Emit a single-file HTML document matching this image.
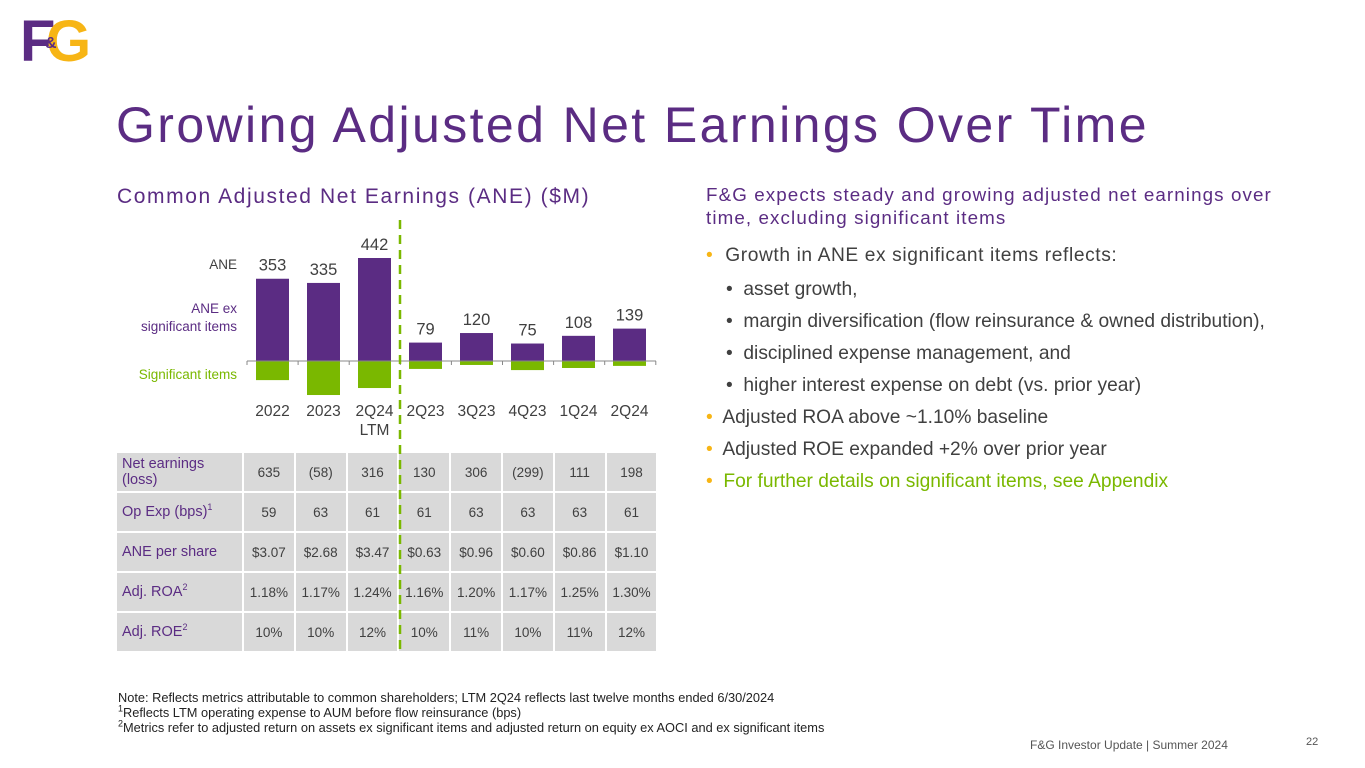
<!DOCTYPE html>
<html><head><meta charset="utf-8"><style>
body{margin:0;width:1365px;height:768px;background:#fff;position:relative;overflow:hidden;font-family:"Liberation Sans",sans-serif}
.abs{position:absolute}
.purple{color:#5b2c83}
table{border-collapse:separate;border-spacing:2px;position:absolute;left:115px;top:451px;table-layout:fixed}
td{background:#d9d9d9;height:38px;text-align:center;vertical-align:middle;font-size:13.5px;color:#404040;padding:0;width:49.8px}
td.lab{text-align:left;color:#5b2c83;font-size:14.5px;width:120px;padding-left:5px;line-height:16px}
sup{font-size:9px;line-height:0}
ul{margin:0;padding:0;list-style:none}
li{position:absolute;font-size:19.2px;color:#404040;white-space:nowrap}
</style></head><body>
<div class="abs" style="left:20px;top:14px;width:72px;height:56px;font-weight:bold;font-size:58px;line-height:56px">
<span style="position:absolute;left:0;top:0;color:#5b2c83;letter-spacing:-4px">F</span>
<span style="position:absolute;left:26px;top:0;color:#f7b515">G</span>
<span style="position:absolute;left:25px;top:22px;font-size:16px;line-height:16px;color:#5b2c83">&amp;</span>
</div>
<div class="abs purple" style="left:116px;top:96px;font-size:50px;letter-spacing:2.4px">Growing Adjusted Net Earnings Over Time</div>
<div class="abs purple" style="left:117px;top:185px;font-size:21px;letter-spacing:1.6px">Common Adjusted Net Earnings (ANE) ($M)</div>
<div class="abs" style="left:180px;top:257px;width:57px;text-align:right;font-size:13.5px;color:#404040">ANE</div>
<div class="abs purple" style="left:100px;top:300px;width:137px;text-align:right;font-size:13.5px;line-height:18px">ANE ex<br>significant items</div>
<div class="abs" style="left:100px;top:367px;width:137px;text-align:right;font-size:13.5px;color:#7ab800">Significant items</div>
<svg class="abs" style="left:0;top:0" width="1365" height="768" id="chart"></svg>
<table>
<tr><td class="lab">Net earnings<br>(loss)</td><td>635</td><td>(58)</td><td>316</td><td>130</td><td>306</td><td>(299)</td><td>111</td><td>198</td></tr>
<tr><td class="lab">Op Exp (bps)<sup>1</sup></td><td>59</td><td>63</td><td>61</td><td>61</td><td>63</td><td>63</td><td>63</td><td>61</td></tr>
<tr><td class="lab">ANE per share</td><td>$3.07</td><td>$2.68</td><td>$3.47</td><td>$0.63</td><td>$0.96</td><td>$0.60</td><td>$0.86</td><td>$1.10</td></tr>
<tr><td class="lab">Adj. ROA<sup>2</sup></td><td>1.18%</td><td>1.17%</td><td>1.24%</td><td>1.16%</td><td>1.20%</td><td>1.17%</td><td>1.25%</td><td>1.30%</td></tr>
<tr><td class="lab">Adj. ROE<sup>2</sup></td><td>10%</td><td>10%</td><td>12%</td><td>10%</td><td>11%</td><td>10%</td><td>11%</td><td>12%</td></tr>
</table>
<svg class="abs" style="left:398px;top:220px" width="4" height="434"><line x1="2" y1="0" x2="2" y2="434" stroke="#7ab800" stroke-width="2.5" stroke-dasharray="9,6"/></svg>
<div class="abs purple" style="left:706px;top:183px;font-size:18.8px;line-height:23px;letter-spacing:1.1px">F&amp;G expects steady and growing adjusted net earnings over<br>time, excluding significant items</div>
<ul>
<li style="left:706px;top:245px;letter-spacing:0.6px"><span style="color:#f7b515">•</span>&nbsp; Growth in ANE ex significant items reflects:</li>
<li style="left:726px;top:279px">•&nbsp; asset growth,</li>
<li style="left:726px;top:311px">•&nbsp; margin diversification (flow reinsurance &amp; owned distribution),</li>
<li style="left:726px;top:343px">•&nbsp; disciplined expense management, and</li>
<li style="left:726px;top:375px">•&nbsp; higher interest expense on debt (vs. prior year)</li>
<li style="left:706px;top:407px"><span style="color:#f7b515">•</span>&nbsp; Adjusted ROA above ~1.10% baseline</li>
<li style="left:706px;top:439px"><span style="color:#f7b515">•</span>&nbsp; Adjusted ROE expanded +2% over prior year</li>
<li style="left:706px;top:471px;color:#7ab800"><span style="color:#f7b515">•</span>&nbsp; For further details on significant items, see Appendix</li>
</ul>
<div class="abs" style="left:118px;top:690px;font-size:12.8px;line-height:15px;color:#222">Note: Reflects metrics attributable to common shareholders; LTM 2Q24 reflects last twelve months ended 6/30/2024<br><sup>1</sup>Reflects LTM operating expense to AUM before flow reinsurance (bps)<br><sup>2</sup>Metrics refer to adjusted return on assets ex significant items and adjusted return on equity ex AOCI and ex significant items</div>
<div class="abs" style="left:1030px;top:738px;font-size:12px;color:#555">F&amp;G Investor Update | Summer 2024</div>
<div class="abs" style="left:1306px;top:736px;font-size:11px;color:#555">22</div>
<script>
const categories=["2022","2023","2Q24","2Q23","3Q23","4Q23","1Q24","2Q24"];
const aneValues=[353,335,442,79,120,75,108,139];
const sigValues=[-82,-146,-116,-34,-17,-39,-30,-21];
const svg=document.getElementById('chart');
const NS='http://www.w3.org/2000/svg';
const baseY=361,scale=103/442,x0=256,step=51,bw=33;
const xPos=i=>x0+i*step;
const yPos=v=>baseY-v*scale;
function mk(tag,attrs){const e=document.createElementNS(NS,tag);for(const k in attrs)e.setAttribute(k,attrs[k]);svg.appendChild(e);return e;}
categories.forEach((c,i)=>{
 const x=xPos(i);
 const b=mk('rect',{x:x,y:yPos(aneValues[i]),width:bw,height:baseY-yPos(aneValues[i]),fill:'#5b2c83'});
 
 
 const s=mk('rect',{x:x,y:baseY,width:bw,height:yPos(sigValues[i])-baseY,fill:'#7ab800'});
 
 
 const t=mk('text',{x:x+bw/2,y:yPos(aneValues[i])-8,'text-anchor':'middle','font-size':'16.5','fill':'#404040','font-family':'Liberation Sans'});
 t.textContent=aneValues[i];
 
 
 const l=mk('text',{x:x+bw/2,y:416,'text-anchor':'middle','font-size':'15.5','fill':'#404040','font-family':'Liberation Sans'});
 l.textContent=c;
 
 
});
const ltm=mk('text',{x:xPos(2)+bw/2,y:435,'text-anchor':'middle','font-size':'15.5','fill':'#404040','font-family':'Liberation Sans'});
ltm.textContent='LTM';


const ax=mk('line',{x1:247,y1:baseY,x2:656,y2:baseY,stroke:'#888','stroke-width':1});


for(let i=0;i<=categories.length;i++){const tk=mk('line',{x1:247+i*51.1,y1:baseY,x2:247+i*51.1,y2:baseY+4,stroke:'#888'});

}
</script>
</body></html>
